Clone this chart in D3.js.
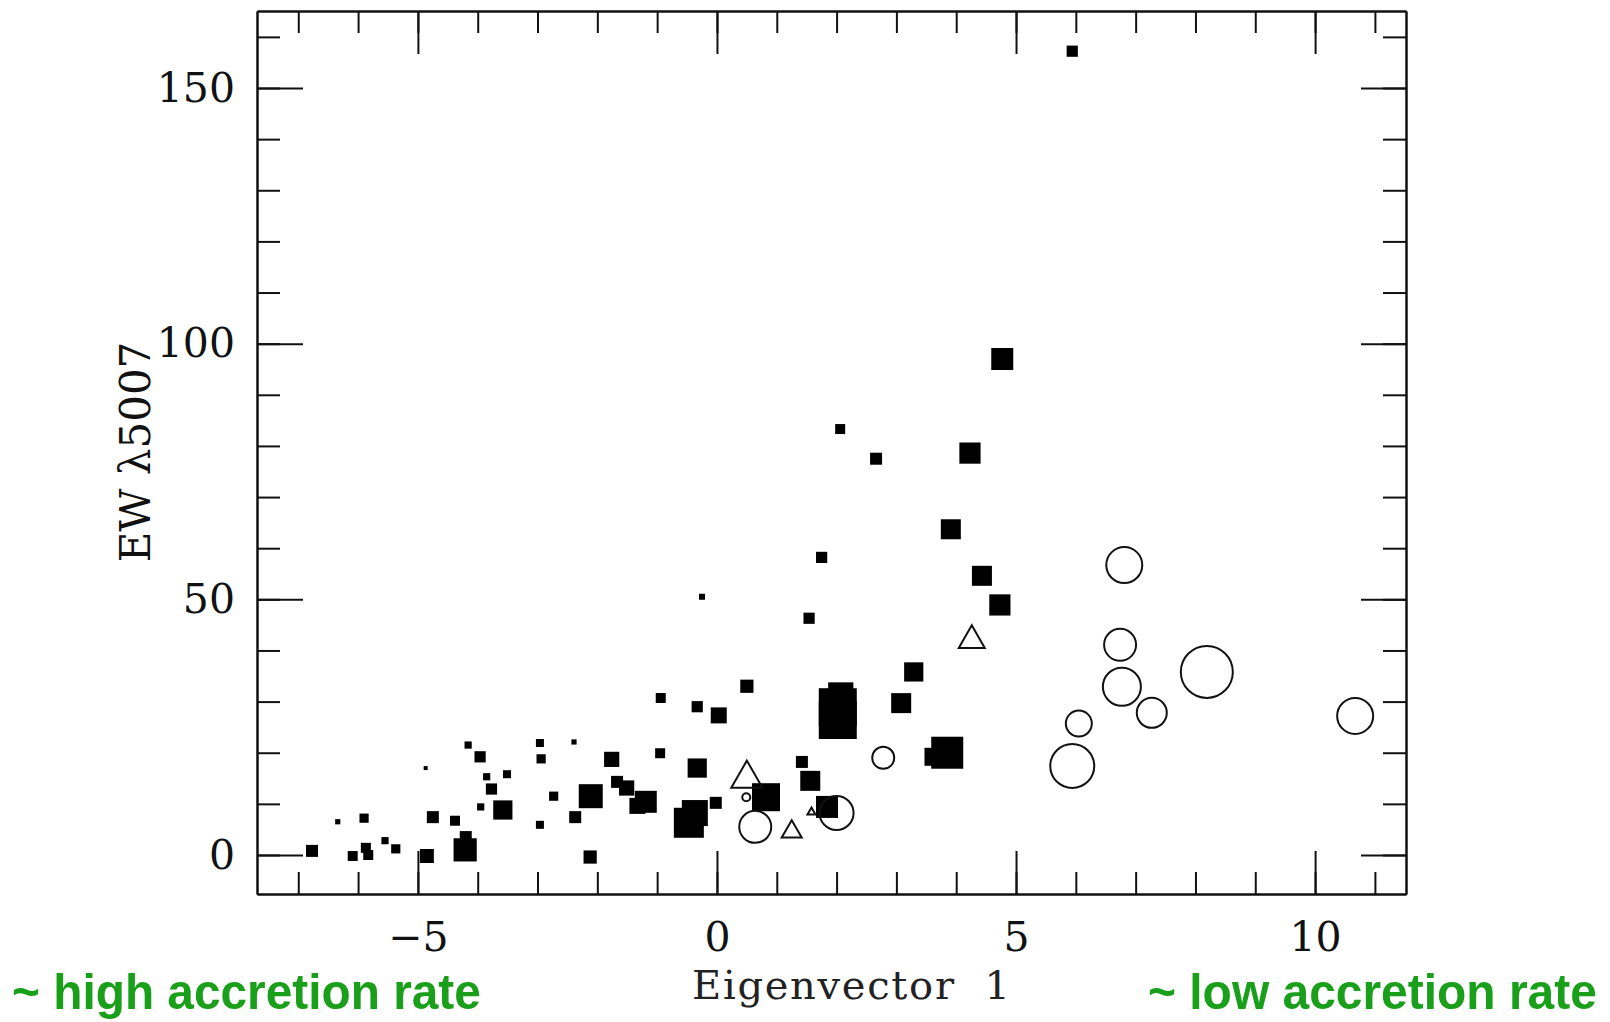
<!DOCTYPE html>
<html>
<head>
<meta charset="utf-8">
<script src="https://cdn.jsdelivr.net/npm/d3@7"></script>
<style>
  html, body { margin: 0; padding: 0; background: #fff; }
  svg { display: block; }
</style>
</head>
<body>
<script>
// filled squares
var sqX = [5.94, 4.77, 2.06, 4.23, 2.66, 3.91, 1.75, 4.43, -0.25, 4.73, 1.54, 3.29, 0.50, -0.94, 3.08, -0.33, 0.03, 2.07, 2.02, 2.02,
           -4.16, -2.96, -2.39, -3.96, -2.94, -1.76, -0.95, 3.85, 3.62, -0.33, 1.42, -4.87, -3.85, -3.51, 1.56, -3.77, -1.67, -1.51, -2.73, -2.11,
           0.82, -1.19, -1.33, -0.02, 1.84, -3.58, -3.95, -0.37, -0.47, -2.37, -4.75, -4.38, -5.90, -6.34, -2.96, -5.55, -5.37, -5.87, -5.83, -6.09,
           -6.77, -4.85, -4.20, -4.21, -2.12];
var sqY = [157.2, 97.0, 83.3, 78.6, 77.5, 63.7, 58.2, 54.6, 50.5, 48.9, 46.3, 35.8, 33.0, 30.7, 29.7, 29.0, 27.3, 31.3, 28.9, 26.4,
           21.5, 21.9, 22.1, 19.2, 18.8, 18.7, 19.9, 20.0, 19.2, 17.0, 18.2, 17.0, 15.3, 15.8, 14.5, 12.9, 14.3, 13.1, 11.5, 11.5,
           11.3, 10.4, 9.6, 10.2, 9.4, 8.8, 9.4, 8.2, 6.3, 7.4, 7.4, 6.7, 7.2, 6.5, 5.9, 2.8, 1.2, 1.4, 0.0, -0.2,
           0.8, -0.2, 3.5, 1.0, -0.4];
var sqS = [2.8, 5.5, 2.5, 5.3, 3, 5, 2.8, 5, 1.5, 5.3, 2.8, 4.8, 3.3, 2.5, 5, 2.8, 4, 6.3, 9.5, 9.5,
           1.8, 2, 1.3, 2.8, 2.3, 3.8, 2.5, 8, 4.5, 4.8, 3, 1, 1.8, 2, 5, 2.8, 3, 3.8, 2.3, 6,
           7, 5.5, 4, 3, 5.5, 4.8, 1.8, 6.5, 7.5, 3, 3, 2.5, 2.3, 1.3, 2, 1.8, 2.3, 2.5, 2.5, 2.5,
           3, 3.5, 3, 5.8, 3.3];

// open circles
var cX = [6.81, 6.74, 6.77, 7.27, 8.19, 6.05, 5.94, 10.67, 2.78, 2.00, 0.64, 0.49];
var cY = [56.7, 41.1, 32.9, 27.8, 35.8, 25.7, 17.4, 27.2, 19.0, 8.2, 5.5, 11.3];
var cS = [9, 8, 9.5, 7.5, 13, 6.5, 11, 9, 5.5, 8.5, 8, 2];

// open triangles
var tX = [4.26, 0.50, 1.25, 1.58];
var tY = [42.7, 15.8, 5.1, 8.6];
var tS = [6.5, 7.8, 5, 2];

var xMajor = [-5, 0, 5, 10];
var xMinor = d3.range(-7, 12);
var yMajor = [0, 50, 100, 150];
var yMinor = d3.range(0, 170, 10);

var width = 1610, height = 1022;
var serif = "'DejaVu Serif', serif";

var svg = d3.select("body").append("svg")
    .attr("width", width)
    .attr("height", height);

var x = d3.scaleLinear().domain([-7.69, 11.52]).range([257, 1406]);
var y = d3.scaleLinear().domain([-7.63, 165.06]).range([894, 11]);
// relative symbol size -> pixels
var size = d3.scaleLinear().domain([0, 10]).range([0, 40]);

var plotLeft = x.range()[0], plotRight = x.range()[1];
var plotBottom = y.range()[0], plotTop = y.range()[1];

function styleAxis(g) {
  g.selectAll("line, path").attr("stroke", "#111").attr("stroke-width", 2);
  g.selectAll("text").attr("fill", "#111").attr("font-family", serif).attr("font-size", 41);
}

// minor ticks
svg.append("g").attr("transform", `translate(0,${plotBottom})`)
  .call(d3.axisBottom(x).tickValues(xMinor).tickSize(-22).tickSizeOuter(0).tickFormat(""))
  .call(styleAxis);
svg.append("g").attr("transform", `translate(0,${plotTop})`)
  .call(d3.axisTop(x).tickValues(xMinor).tickSize(-22).tickSizeOuter(0).tickFormat(""))
  .call(styleAxis);
svg.append("g").attr("transform", `translate(${plotLeft},0)`)
  .call(d3.axisLeft(y).tickValues(yMinor).tickSize(-23).tickSizeOuter(0).tickFormat(""))
  .call(styleAxis);
svg.append("g").attr("transform", `translate(${plotRight},0)`)
  .call(d3.axisRight(y).tickValues(yMinor).tickSize(-23).tickSizeOuter(0).tickFormat(""))
  .call(styleAxis);

// major ticks + labels
svg.append("g").attr("transform", `translate(0,${plotBottom})`)
  .call(d3.axisBottom(x).tickValues(xMajor).tickSizeInner(-43).tickSizeOuter(0).tickPadding(28))
  .call(styleAxis);
svg.append("g").attr("transform", `translate(0,${plotTop})`)
  .call(d3.axisTop(x).tickValues(xMajor).tickSizeInner(-43).tickSizeOuter(0).tickFormat(""))
  .call(styleAxis);
svg.append("g").attr("transform", `translate(${plotLeft},0)`)
  .call(d3.axisLeft(y).tickValues(yMajor).tickSizeInner(-46).tickSizeOuter(0).tickPadding(22))
  .call(styleAxis);
svg.append("g").attr("transform", `translate(${plotRight},0)`)
  .call(d3.axisRight(y).tickValues(yMajor).tickSizeInner(-45).tickSizeOuter(0).tickFormat(""))
  .call(styleAxis);

// points
var squares = sqX.map((d, i) => ({x: d, y: sqY[i], s: sqS[i]}));
var circles = cX.map((d, i) => ({x: d, y: cY[i], s: cS[i]}));
var tris = tX.map((d, i) => ({x: d, y: tY[i], s: tS[i]}));

svg.append("g").selectAll("rect")
  .data(squares)
  .enter().append("rect")
  .attr("x", d => x(d.x) - size(d.s) / 2)
  .attr("y", d => y(d.y) - size(d.s) / 2)
  .attr("width", d => size(d.s))
  .attr("height", d => size(d.s))
  .attr("fill", "#000");

svg.append("g").selectAll("circle")
  .data(circles)
  .enter().append("circle")
  .attr("cx", d => x(d.x))
  .attr("cy", d => y(d.y))
  .attr("r", d => size(d.s) / 2)
  .attr("fill", "none")
  .attr("stroke", "#111")
  .attr("stroke-width", 2);

svg.append("g").selectAll("path")
  .data(tris)
  .enter().append("path")
  .attr("d", function(d) {
    var w = size(d.s), h = w * 0.87, cx = x(d.x), cy = y(d.y);
    return `M${cx},${cy - h / 2}L${cx + w / 2},${cy + h / 2}L${cx - w / 2},${cy + h / 2}Z`;
  })
  .attr("fill", "none")
  .attr("stroke", "#111")
  .attr("stroke-width", 2)
  .attr("stroke-linejoin", "miter");

// axis titles
svg.append("text")
  .attr("transform", "translate(150,452) rotate(-90)")
  .attr("text-anchor", "middle")
  .attr("font-family", serif)
  .attr("font-size", 42)
  .attr("fill", "#111")
  .text("EW λ5007");

svg.append("text")
  .attr("x", 851)
  .attr("y", 999)
  .attr("text-anchor", "middle")
  .attr("font-family", serif)
  .attr("font-size", 40)
  .attr("fill", "#222")
  .attr("textLength", 318)
  .style("white-space", "pre")
  .text("Eigenvector  1");

// green notes, squeezed horizontally to the width they take in the original
function note(txt, x0, w) {
  var t = svg.append("text")
    .attr("font-family", "'Liberation Sans', Arial, sans-serif")
    .attr("font-weight", "bold")
    .attr("font-size", 50)
    .attr("fill", "#1a9f1a")
    .text(txt);
  var natural = t.node().getComputedTextLength();
  t.attr("transform", `translate(${x0},1009) scale(${w / natural},1)`);
}
note("~ high accretion rate", 12, 469);
note("~ low accretion rate", 1148, 449);
</script>
</body>
</html>
